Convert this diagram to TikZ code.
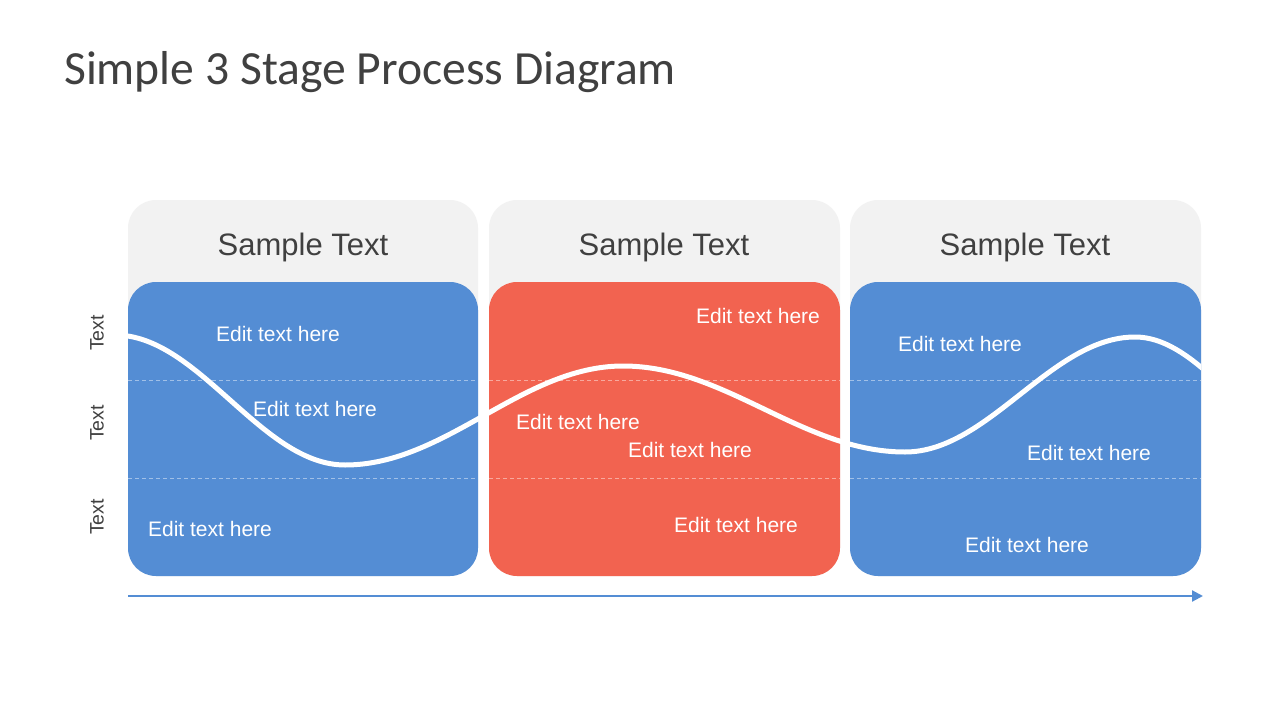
\documentclass[tikz,border=0pt]{standalone}
\usepackage{fontspec}
\setmainfont{Liberation Sans}
\newfontfamily\titlefont{Carlito}
\usetikzlibrary{arrows.meta}
\definecolor{pblue}{RGB}{84,141,212}
\definecolor{pred}{RGB}{242,99,80}
\definecolor{pgrey}{RGB}{242,242,242}
\definecolor{dtext}{RGB}{64,64,64}
\tikzset{
  headbox/.style={fill=pgrey,draw=none,rounded corners=28pt},
  bodybox/.style={draw=none,rounded corners=28pt},
  headtxt/.style={anchor=base,text=dtext,font=\fontsize{31}{36}\selectfont,inner sep=0pt},
  edittxt/.style={anchor=base,text=white,font=\fontsize{21}{25}\selectfont,inner sep=0pt},
  sidetxt/.style={anchor=center,rotate=90,text=dtext,font=\fontsize{19.5}{23}\selectfont,inner sep=0pt},
  gridline/.style={draw=white,draw opacity=0.45,line width=0.8pt,dash pattern=on 4pt off 3pt},
  wave/.style={draw=white,line width=5pt},
  timeline/.style={draw=pblue,line width=2.2pt,-{Triangle[length=11pt,width=11pt]}}
}
\begin{document}
\begin{tikzpicture}[x=1pt,y=-1pt]
\useasboundingbox (0,0) rectangle (1280,720);
\fill[white] (0,0) rectangle (1280,720);
% title
\node[anchor=base west,inner sep=0pt,text=dtext,font=\titlefont\fontsize{47.6}{56}\selectfont] (title) at (64,84) {Simple 3 Stage Process Diagram};
% header boxes
\fill[headbox] (128,200) rectangle (478,576);
\fill[headbox] (489,200) rectangle (840,576);
\fill[headbox] (850,200) rectangle (1201,576);
% body boxes
\fill[bodybox,fill=pblue] (128,282) rectangle (478,576);
\fill[bodybox,fill=pred] (489,282) rectangle (840,576);
\fill[bodybox,fill=pblue] (850,282) rectangle (1201,576);
% dashed grid lines
\draw[gridline] (128,380) -- (478,380);
\draw[gridline] (489,380) -- (840,380);
\draw[gridline] (850,380) -- (1201,380);
\draw[gridline] (128,478) -- (478,478);
\draw[gridline] (489,478) -- (840,478);
\draw[gridline] (850,478) -- (1201,478);
% wave
\begin{scope}
\clip (128,250) rectangle (1201,520);
\draw[wave] (115,335) .. controls (198.7,335) and (261.3,465) .. (345,465)
  .. controls (446.2,465) and (521.8,366) .. (623,366)
  .. controls (725.6,366) and (802.4,452) .. (905,452)
  .. controls (988.7,452) and (1051.3,337) .. (1135,337)
  .. controls (1207.8,337) and (1262.2,460) .. (1335,460);
\end{scope}
% headers
\node[headtxt] (h1) at (303,255) {Sample Text};
\node[headtxt] (h2) at (664,255) {Sample Text};
\node[headtxt] (h3) at (1025,255) {Sample Text};
% side labels
\node[sidetxt] (s1) at (97,333) {Text};
\node[sidetxt] (s2) at (97,423) {Text};
\node[sidetxt] (s3) at (97,517) {Text};
% edit texts
\node[edittxt] (a1) at (278,341) {Edit text here};
\node[edittxt] (a2) at (315,416) {Edit text here};
\node[edittxt] (a3) at (210,536) {Edit text here};
\node[edittxt] (b1) at (758,323) {Edit text here};
\node[edittxt] (b2) at (578,429) {Edit text here};
\node[edittxt] (b3) at (690,457) {Edit text here};
\node[edittxt] (b4) at (736,532) {Edit text here};
\node[edittxt] (c1) at (960,351) {Edit text here};
\node[edittxt] (c2) at (1089,460) {Edit text here};
\node[edittxt] (c3) at (1027,552) {Edit text here};
% timeline arrow
\coordinate (ts) at (128,596);
\coordinate (te) at (1203,596);
\draw[timeline] (ts) -- (te);
\end{tikzpicture}
\end{document}
